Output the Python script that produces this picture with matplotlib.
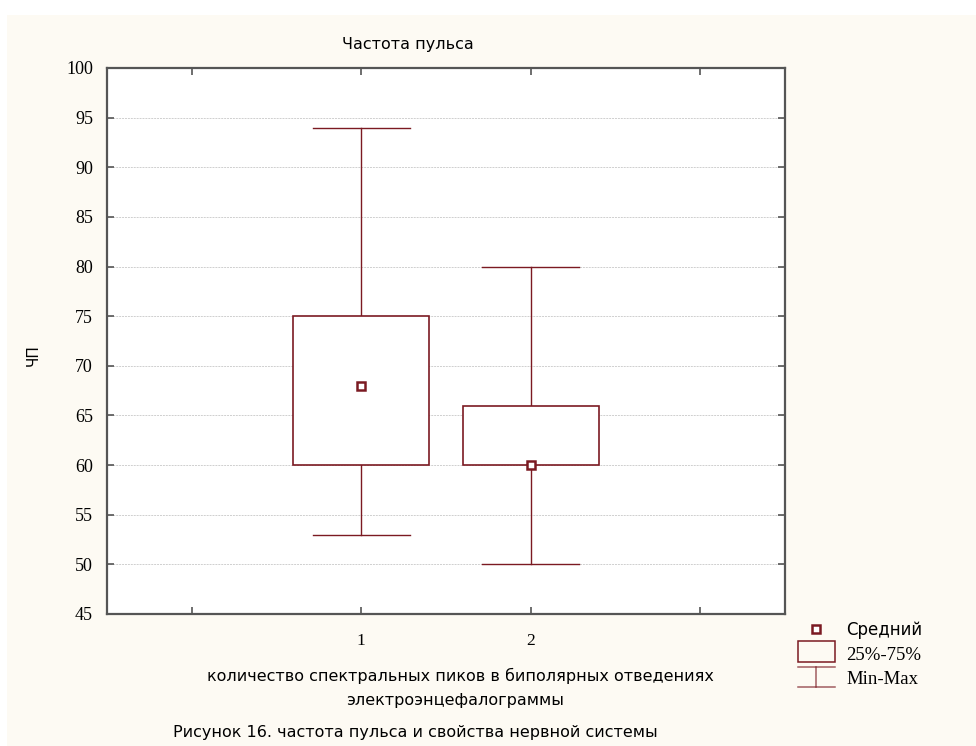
import matplotlib
matplotlib.use("Agg")
import matplotlib.pyplot as plt
from matplotlib.patches import Rectangle
from matplotlib.lines import Line2D
from matplotlib.legend_handler import HandlerBase

# данные
groups = [1, 2]
q1 = [60, 60]
q3 = [75, 66]
mins = [53, 50]
maxs = [94, 80]
means = [68, 60]
y_ticks = list(range(45, 101, 5))

dark_red = "#7B1A22"
cream = "#FDFAF3"


class WhiskerHandler(HandlerBase):
    # значок Min-Max для легенды
    def create_artists(self, legend, orig_handle, xdescent, ydescent,
                       width, height, fontsize, trans):
        x0, x1 = -xdescent, -xdescent + width
        xc = (x0 + x1) / 2
        yc = -ydescent + height / 2
        y0, y1 = yc - 6.0, yc + 8.0
        arts = [
            Line2D([x0, x1], [y1, y1], color=dark_red, lw=1.1, alpha=0.7),
            Line2D([x0, x1], [y0, y0], color=dark_red, lw=1.1, alpha=0.7),
            Line2D([xc, xc], [y0, y1], color=dark_red, lw=1.1, alpha=0.7),
        ]
        for a in arts:
            a.set_transform(trans)
        return arts


class BoxHandler(HandlerBase):
    def create_artists(self, legend, orig_handle, xdescent, ydescent,
                       width, height, fontsize, trans):
        yc = -ydescent + height / 2
        r = Rectangle((-xdescent, yc - 6.0), width, 15.0,
                      facecolor="none", edgecolor=dark_red, lw=1.1, transform=trans)
        return [r]


fig = plt.figure(figsize=(9.76, 7.46), dpi=100, facecolor="white")
# кремовый фон с белой полоской сверху и слева
fig.patches.append(Rectangle((7 / 976, 0), 1, 1 - 15 / 746, transform=fig.transFigure,
                             facecolor=cream, edgecolor="none", zorder=-10))

ax = fig.add_axes([107 / 976, 1 - 614 / 746, 678 / 976, 546 / 746])
ax.set_facecolor("white")

box_w = 0.8
cap_w = 0.57
for x, lo, hi, mn, mx, m in zip(groups, q1, q3, mins, maxs, means):
    ax.plot([x, x], [hi, mx], color=dark_red, lw=1, zorder=2)
    ax.plot([x, x], [mn, lo], color=dark_red, lw=1, zorder=2)
    ax.plot([x - cap_w / 2, x + cap_w / 2], [mx, mx], color=dark_red, lw=1, zorder=2)
    ax.plot([x - cap_w / 2, x + cap_w / 2], [mn, mn], color=dark_red, lw=1, zorder=2)
    ax.add_patch(Rectangle((x - box_w / 2, lo), box_w, hi - lo, facecolor="white",
                           edgecolor=dark_red, lw=1.2, zorder=3))
    ax.plot([x], [m], marker="s", ms=6, mfc="white", mec=dark_red, mew=1.8,
            linestyle="none", zorder=4)

ax.set_xlim(-0.5, 3.5)
ax.set_ylim(45, 100)
ax.set_xticks([0, 1, 2, 3])
ax.set_xticklabels(["", "1", "2", ""], family="Liberation Serif", fontsize=12.5)
ax.set_yticks(y_ticks)
ax.set_yticklabels([str(v) for v in y_ticks], family="Liberation Serif", fontsize=13)
ax.tick_params(direction="in", length=5, width=1.2, color="#555555",
               top=True, right=True)
ax.tick_params(axis="y", pad=10)
ax.tick_params(axis="x", pad=14)
for s in ax.spines.values():
    s.set_color("#555555")
    s.set_linewidth(1.6)
ax.grid(axis="y", color="#cfcfcf", linestyle=(0, (2, 1)), lw=0.7)
ax.set_axisbelow(True)

fig.text(408 / 976, 1 - 45 / 746, "Частота пульса", ha="center", va="center",
         fontsize=11.5, family="DejaVu Sans")
fig.text(33 / 976, 1 - 355 / 746, "ЧП", ha="center", va="center", rotation=90,
         fontsize=11, family="DejaVu Sans")
fig.text(460 / 976, 1 - 676 / 746, "количество спектральных пиков в биполярных отведениях",
         ha="center", va="center", fontsize=11.5, family="DejaVu Sans")
fig.text(455 / 976, 1 - 701 / 746, "электроэнцефалограммы",
         ha="center", va="center", fontsize=11.5, family="DejaVu Sans")
fig.text(415 / 976, 1 - 733 / 746, "Рисунок 16. частота пульса и свойства нервной системы",
         ha="center", va="center", fontsize=11.5, family="DejaVu Sans")

mean_h = Line2D([], [], marker="s", ms=6, mfc="white", mec=dark_red, mew=1.8,
                linestyle="none")
box_h = Rectangle((0, 0), 1, 1)
wh_h = Line2D([], [])
leg = fig.legend([mean_h, box_h, wh_h], ["Средний", "25%-75%", "Min-Max"],
                 handler_map={box_h: BoxHandler(), wh_h: WhiskerHandler()},
                 loc="upper left", bbox_to_anchor=(783 / 976, 1 - 606 / 746),
                 frameon=False, fontsize=12, handlelength=2.2, labelspacing=0.45,
                 handletextpad=0.7)
texts = leg.get_texts()
texts[0].set_family("DejaVu Sans")
texts[1].set_family("Liberation Serif")
texts[2].set_family("Liberation Serif")
texts[1].set_fontsize(13.5)
texts[2].set_fontsize(13.5)

fig.savefig("out.png", dpi=100, facecolor=fig.get_facecolor())
